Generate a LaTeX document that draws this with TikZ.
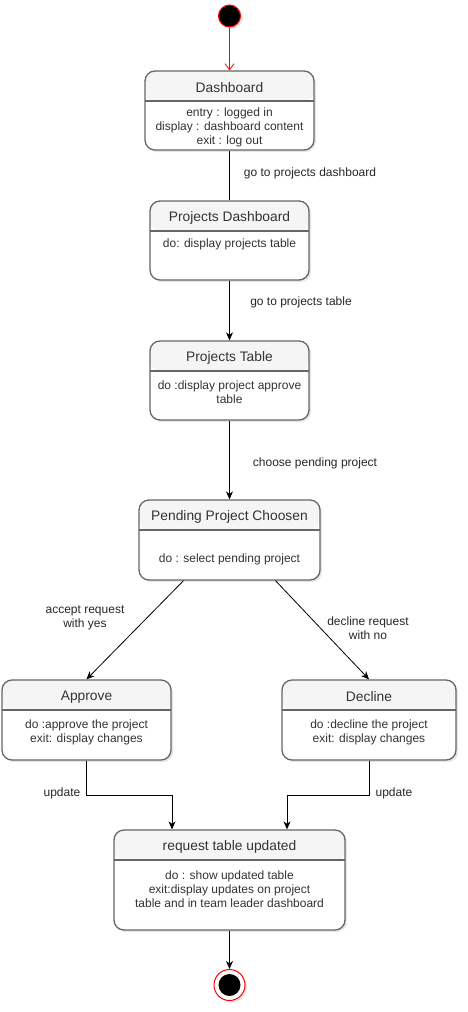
\documentclass[tikz,border=0pt]{standalone}
\usepackage{fontspec}
\setmainfont{Liberation Sans}
\usetikzlibrary{arrows.meta,shadows}
\definecolor{boxline}{HTML}{666666}
\definecolor{headfill}{HTML}{F5F5F5}
\definecolor{boxtext}{HTML}{333333}
% state box: name, centre, width, height, title, body offset, body
\newcommand{\umlstate}[7]{%
  \node[state, minimum width=#3, minimum height=#4] (#1) at (#2) {};
  \node[statetitle] (#1-t) at ([yshift=-17.5pt]#1.north) {#5};
  \node[statebody] (#1-b) at ([yshift=-#6pt]#1.north) {#7};
}
\tikzset{
  state/.style={draw=boxline, line width=1.3pt, rounded corners=10pt, fill=white, inner sep=0,
    drop shadow={opacity=0.2, shadow xshift=2pt, shadow yshift=-2pt},
    path picture={
      \fill[headfill] (path picture bounding box.north west) rectangle ([yshift=-30pt]path picture bounding box.north east);
      \draw[boxline, line width=1.3pt] ([yshift=-30pt]path picture bounding box.north west) -- ([yshift=-30pt]path picture bounding box.north east);
    }},
  statetitle/.style={font=\fontsize{13.8}{16}\selectfont, text=boxtext, inner sep=0},
  statebody/.style={font=\fontsize{12}{14}\selectfont, text=boxtext, align=center, inner sep=0},
  lbl/.style={font=\fontsize{12}{14}\selectfont, text=black!85, align=center, inner sep=0},
  flow/.style={-{Stealth[length=8pt,width=7pt,inset=2.5pt]}, line width=0.8pt},
}
\begin{document}
\begin{tikzpicture}[x=1pt, y=-1pt]
  \useasboundingbox (0,0) rectangle (468,1012);

  % pseudo states
  \node[circle, minimum size=22, inner sep=0, draw=red, line width=1pt, fill=black,
    drop shadow={opacity=0.2, shadow xshift=2pt, shadow yshift=-2pt}] (start) at (229.5,16) {};
  \node[circle, minimum size=31, inner sep=0, draw=red, line width=1pt, fill=white,
    drop shadow={opacity=0.2, shadow xshift=2pt, shadow yshift=-2pt},
    path picture={\fill[black] (path picture bounding box.center) circle (11pt);}] (stop) at (229.5,985) {};

  % states
  \umlstate{dash}{229.5,110.5}{169}{79}{Dashboard}{57}{entry : logged in\\display : dashboard content\\exit : log out}
  \umlstate{pdash}{229.5,240.5}{159}{79}{Projects Dashboard}{44}{do: display projects table}
  \umlstate{ptab}{229.5,380.5}{159}{79}{Projects Table}{52}{do :display project approve\\table}
  \umlstate{pend}{229.5,540}{181}{80}{Pending Project Choosen}{60}{do : select pending project}
  \umlstate{appr}{86.5,720}{169}{80}{Approve}{53}{do :approve the project\\exit: display changes}
  \umlstate{decl}{369,720}{174}{80}{Decline}{53}{do :decline the project\\exit: display changes}
  \umlstate{req}{229.5,880}{231}{100}{request table updated}{60}{do : show updated table\\exit:display updates on project\\table and in team leader dashboard}

  % transitions
  \draw[red, line width=0.8pt, -{Straight Barb[length=6pt,width=9pt]}] (start) -- (dash);
  \draw[line width=0.8pt] (dash) -- (pdash);
  \draw[flow] (pdash) -- (ptab);
  \draw[flow] (ptab) -- (pend);
  \draw[flow] ([xshift=-46pt]pend.south) -- (appr.north);
  \draw[flow] ([xshift=46pt]pend.south) -- (decl.north);
  \draw[flow] (appr.south) -- ++(0,35) -| ([xshift=-57.5pt]req.north);
  \draw[flow] (decl.south) -- ++(0,35) -| ([xshift=57.5pt]req.north);
  \draw[flow] (req) -- (stop);

  % transition labels
  \node[lbl] (l-pdash) at (310,173) {go to projects dashboard};
  \node[lbl] (l-ptab) at (301,302) {go to projects table};
  \node[lbl] (l-pend) at (315,463) {choose pending project};
  \node[lbl] (l-appr) at (85,618) {accept request\\with yes};
  \node[lbl] (l-decl) at (368,628) {decline request\\with no};
  \node[lbl] (l-upd1) at (62,793) {update};
  \node[lbl] (l-upd2) at (394,793) {update};
\end{tikzpicture}
\end{document}
